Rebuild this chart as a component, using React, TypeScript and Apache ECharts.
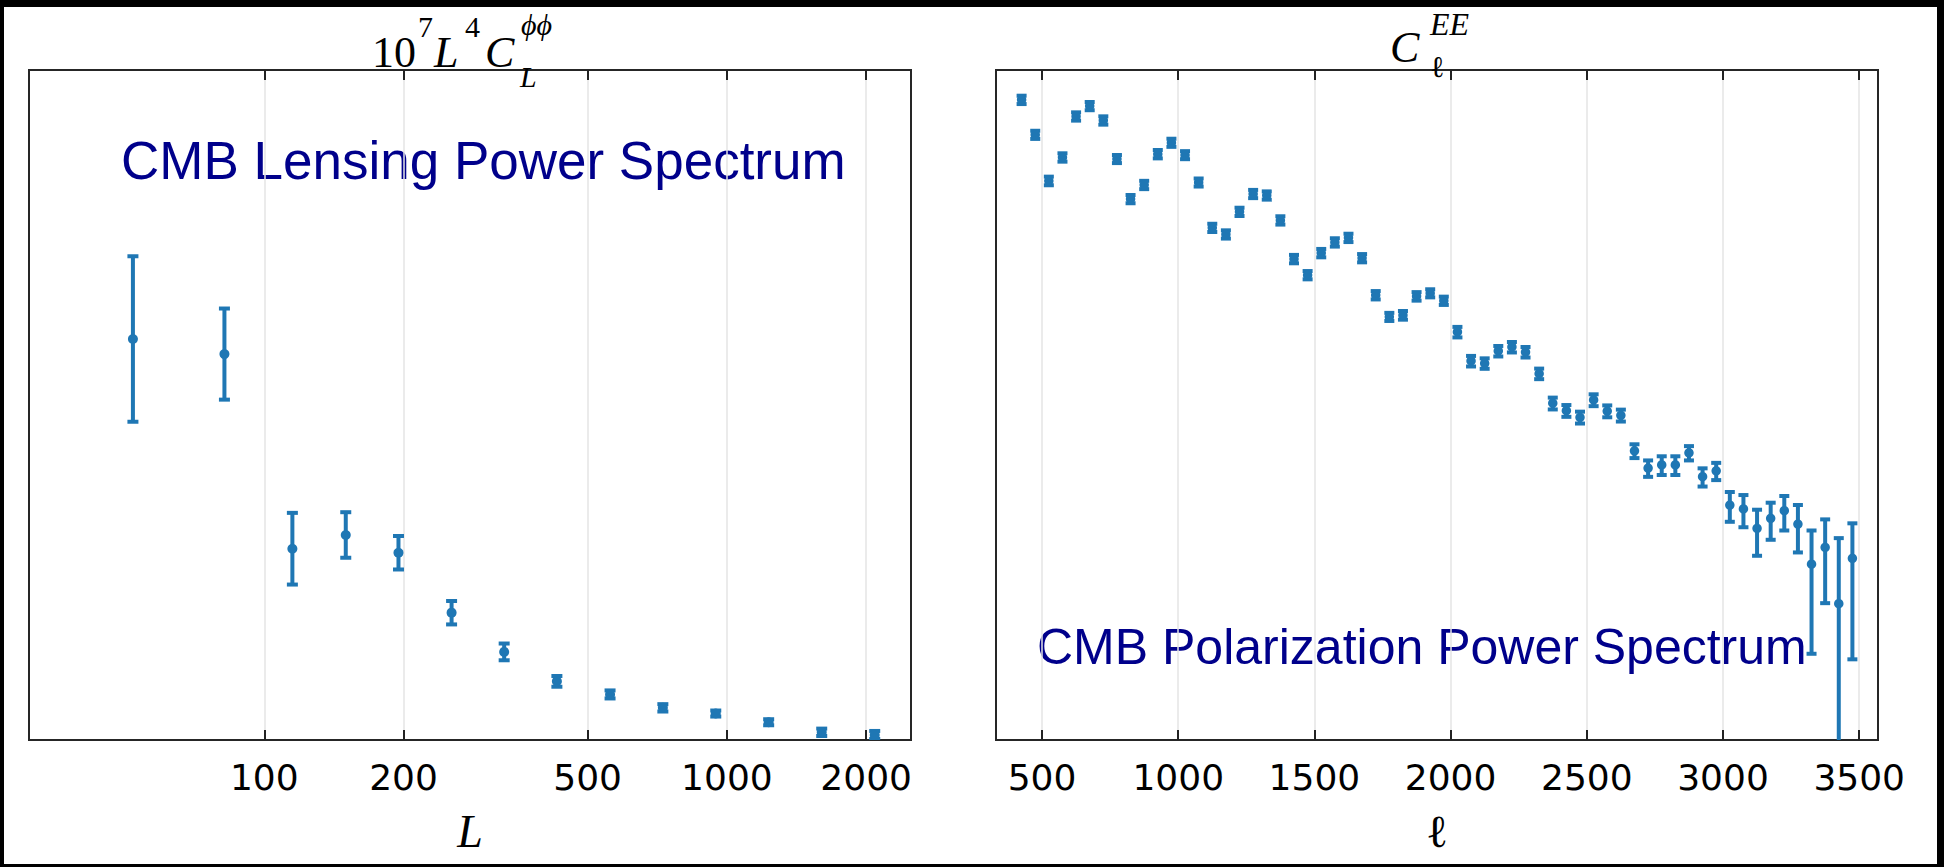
import React, { useEffect, useRef } from "react";
import * as echarts from "echarts";

const BLUE = "#1f77b4";
const NAVY = "#00008b";

// ---- Left panel: CMB lensing power spectrum, 10^7 L^4 C_L^phiphi (arbitrary units) ----
const lensL = [52, 82, 115, 150, 195, 254, 330, 429, 559, 727, 946, 1231, 1603, 2087];
const lensC = [1.197, 1.152, 0.571, 0.612, 0.559, 0.38, 0.263, 0.175, 0.136, 0.096, 0.079, 0.053, 0.023, 0.015];
const lensErr = [0.247, 0.136, 0.107, 0.068, 0.05, 0.035, 0.025, 0.016, 0.012, 0.011, 0.009, 0.009, 0.011, 0.012];
const lensTicks = [100, 200, 500, 1000, 2000];

// ---- Right panel: CMB EE polarization power spectrum C_ell^EE ----
const eeEll = [
  425, 475, 525, 575, 625, 675, 725, 775, 825, 875, 925, 975, 1025, 1075, 1125, 1175,
  1225, 1275, 1325, 1375, 1425, 1475, 1525, 1575, 1625, 1675, 1725, 1775, 1825, 1875,
  1925, 1975, 2025, 2075, 2125, 2175, 2225, 2275, 2325, 2375, 2425, 2475, 2525, 2575,
  2625, 2675, 2725, 2775, 2825, 2875, 2925, 2975, 3025, 3075, 3125, 3175, 3225, 3275,
  3325, 3375, 3425, 3475,
];
const eeC = [
  6.0e-4, 3.29e-4, 1.49e-4, 2.23e-4, 4.51e-4, 5.39e-4, 4.21e-4, 2.17e-4, 1.09e-4, 1.39e-4,
  2.36e-4, 2.87e-4, 2.32e-4, 1.45e-4, 6.65e-5, 5.94e-5, 8.76e-5, 1.19e-4, 1.16e-4, 7.56e-5,
  3.89e-5, 2.95e-5, 4.31e-5, 5.18e-5, 5.6e-5, 3.95e-5, 2.09e-5, 1.44e-5, 1.48e-5, 2.05e-5,
  2.16e-5, 1.9e-5, 1.11e-5, 6.74e-6, 6.47e-6, 8.0e-6, 8.57e-6, 7.86e-6, 5.42e-6, 3.26e-6,
  2.87e-6, 2.56e-6, 3.45e-6, 2.85e-6, 2.65e-6, 1.44e-6, 1.07e-6, 1.13e-6, 1.13e-6, 1.39e-6,
  9.22e-7, 1.02e-6, 5.67e-7, 5.3e-7, 3.8e-7, 4.51e-7, 5.14e-7, 4.09e-7, 2.05e-7, 2.74e-7,
  1.04e-7, 2.27e-7,
];
const eeErr = [
  4.3e-5, 2.3e-5, 1.1e-5, 1.6e-5, 3.2e-5, 3.8e-5, 3.0e-5, 1.5e-5, 7.7e-6, 9.9e-6,
  1.7e-5, 2.0e-5, 1.6e-5, 1.0e-5, 4.7e-6, 4.2e-6, 6.2e-6, 8.4e-6, 8.2e-6, 5.4e-6,
  2.8e-6, 2.1e-6, 3.1e-6, 3.7e-6, 4.0e-6, 2.8e-6, 1.5e-6, 1.0e-6, 1.1e-6, 1.5e-6,
  1.5e-6, 1.35e-6, 1.0e-6, 6.1e-7, 5.8e-7, 7.2e-7, 7.7e-7, 7.1e-7, 4.9e-7, 3.3e-7,
  2.9e-7, 2.6e-7, 3.5e-7, 2.9e-7, 2.7e-7, 1.7e-7, 1.5e-7, 1.8e-7, 1.8e-7, 1.7e-7,
  1.43e-7, 1.5e-7, 1.42e-7, 1.43e-7, 1.43e-7, 1.39e-7, 1.48e-7, 1.58e-7, 1.61e-7, 1.69e-7,
  2.17e-7, 1.87e-7,
];
const eeTicks = [500, 1000, 1500, 2000, 2500, 3000, 3500];

const LENS_X = [31, 2500];
const LENS_Y = [0, 2];
const EE_X = [331, 3569];
const EE_Y = [1e-8, 1e-3];

function makeErrorBars(capHalf: number, floor: number, width: number) {
  return (params: any, api: any) => {
    const x = api.value(0);
    const lo = api.value(1);
    const hi = api.value(2);
    const pTop = api.coord([x, hi]);
    const clipped = !(lo > floor);
    const pBot = api.coord([x, clipped ? floor : lo]);
    const st = { stroke: BLUE, lineWidth: width };
    const children: any[] = [
      { type: "line", shape: { x1: pTop[0], y1: pTop[1], x2: pBot[0], y2: pBot[1] }, style: st },
      { type: "line", shape: { x1: pTop[0] - capHalf, y1: pTop[1], x2: pTop[0] + capHalf, y2: pTop[1] }, style: st },
    ];
    if (!clipped) {
      children.push({ type: "line", shape: { x1: pBot[0] - capHalf, y1: pBot[1], x2: pBot[0] + capHalf, y2: pBot[1] }, style: st });
    }
    return { type: "group", children };
  };
}

const tickStyle = { show: true, inside: true, length: 10, lineStyle: { color: "#222", width: 2 } };
const labelStyle = { show: true, fontSize: 36, fontFamily: "DejaVu Sans", color: "#000", margin: 19 };
const gridLine = { show: true, lineStyle: { color: "#e4e4e4", width: 1.5 } };
const nameStyle = { fontFamily: "Liberation Serif", fontSize: 46, color: "#000" };

function txt(text: string, x: number, y: number, font: string, fill = "#000") {
  return {
    type: "text",
    x,
    y,
    silent: true,
    style: { text, font, fill, textAlign: "left", textVerticalAlign: "middle", align: "left", verticalAlign: "middle" },
  };
}

export default function App() {
  const ref = useRef<HTMLDivElement>(null);
  useEffect(() => {
    document.body.style.margin = "0";
    if (!ref.current) return;
    const chart = echarts.init(ref.current, undefined, { renderer: "svg" });
    const lensBars = lensL.map((l, i) => [l, lensC[i] - lensErr[i], lensC[i] + lensErr[i]]);
    const eeBars = eeEll.map((l, i) => [l, eeC[i] - eeErr[i], eeC[i] + eeErr[i]]);
    const serifM = '44px "Liberation Serif"';
    const serifMI = 'italic 44px "Liberation Serif"';
    const serifS = '30px "Liberation Serif"';
    const serifSI = 'italic 30px "Liberation Serif"';
    const option: any = {
      animation: false,
      backgroundColor: "#fff",
      grid: [
        { left: 25, top: 63, width: 882, height: 670, show: true, borderColor: "#262626", borderWidth: 2 },
        { left: 992, top: 63, width: 882, height: 670, show: true, borderColor: "#262626", borderWidth: 2 },
      ],
      xAxis: [
        {
          gridIndex: 0, type: "log", logBase: 10, min: LENS_X[0], max: LENS_X[1], position: "bottom",
          axisLine: { show: false, onZero: false },
          axisTick: { ...tickStyle, customValues: lensTicks },
          axisLabel: { ...labelStyle, customValues: lensTicks, formatter: (v: number) => String(Math.round(v)) },
          splitLine: gridLine, minorTick: { show: false }, minorSplitLine: { show: false },
          name: "L", nameLocation: "middle", nameGap: 68, nameTextStyle: { ...nameStyle, fontStyle: "italic" },
        },
        {
          gridIndex: 0, type: "log", logBase: 10, min: LENS_X[0], max: LENS_X[1], position: "top",
          axisLine: { show: false, onZero: false },
          axisTick: { ...tickStyle, customValues: lensTicks },
          axisLabel: { show: false }, splitLine: { show: false },
        },
        {
          gridIndex: 1, type: "value", min: EE_X[0], max: EE_X[1], position: "bottom",
          axisLine: { show: false, onZero: false },
          axisTick: { ...tickStyle, customValues: eeTicks },
          axisLabel: { ...labelStyle, customValues: eeTicks, formatter: (v: number) => String(v) },
          splitLine: gridLine,
          name: "ℓ", nameLocation: "middle", nameGap: 68, nameTextStyle: nameStyle,
        },
        {
          gridIndex: 1, type: "value", min: EE_X[0], max: EE_X[1], position: "top",
          axisLine: { show: false, onZero: false },
          axisTick: { ...tickStyle, customValues: eeTicks },
          axisLabel: { show: false }, splitLine: { show: false },
        },
      ],
      yAxis: [
        { gridIndex: 0, type: "value", min: LENS_Y[0], max: LENS_Y[1], show: false },
        { gridIndex: 1, type: "log", logBase: 10, min: EE_Y[0], max: EE_Y[1], show: false },
      ],
      series: [
        {
          type: "custom", xAxisIndex: 0, yAxisIndex: 0, data: lensBars, clip: true,
          encode: { x: 0, y: 2 }, renderItem: makeErrorBars(5.5, LENS_Y[0], 4), z: 2, silent: true,
        },
        {
          type: "scatter", xAxisIndex: 0, yAxisIndex: 0, symbol: "circle", symbolSize: 10,
          itemStyle: { color: BLUE, opacity: 1 }, data: lensL.map((l, i) => [l, lensC[i]]), z: 3, silent: true,
        },
        {
          type: "custom", xAxisIndex: 2, yAxisIndex: 1, data: eeBars, clip: true,
          encode: { x: 0, y: 2 }, renderItem: makeErrorBars(5, EE_Y[0], 4), z: 2, silent: true,
        },
        {
          type: "scatter", xAxisIndex: 2, yAxisIndex: 1, symbol: "circle", symbolSize: 9.5,
          itemStyle: { color: BLUE, opacity: 1 }, data: eeEll.map((l, i) => [l, eeC[i]]), z: 3, silent: true,
        },
      ],
      graphic: [
        // left title: 10^7 L^4 C_L^{phi phi}
        txt("10", 368, 45, serifM),
        txt("7", 414, 19, serifS),
        txt("L", 430, 45, serifMI),
        txt("4", 461, 19, serifS),
        txt("C", 481, 45, serifMI),
        txt("ϕϕ", 517, 17, serifSI),
        txt("L", 516, 69, serifSI),
        // right title: C_ell^{EE}
        txt("C", 1386, 40, serifMI),
        txt("EE", 1426, 17, 'italic 32px "Liberation Serif"'),
        txt("ℓ", 1426, 59, serifS),
        // annotations
        txt("CMB Lensing Power Spectrum", 117, 153, '53px "Liberation Sans"', NAVY),
        txt("CMB Polarization Power Spectrum", 1033, 640, '50px "Liberation Sans"', NAVY),
      ],
    };
    chart.setOption(option);
    return () => chart.dispose();
  }, []);
  return (
    <div style={{ position: "absolute", left: 0, top: 0, width: 1944, height: 867, background: "#000" }}>
      <div ref={ref} style={{ position: "absolute", left: 4, top: 7, width: 1933, height: 857, background: "#fff" }} />
    </div>
  );
}
